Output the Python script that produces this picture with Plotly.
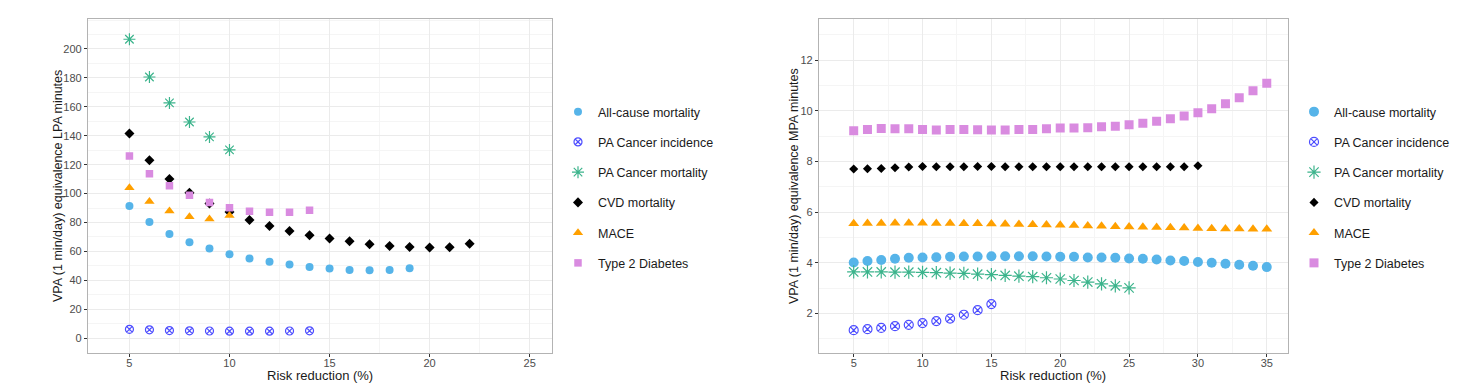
import plotly.graph_objects as go

# ---------------- data ----------------
series_names = ["All-cause mortality", "PA Cancer incidence", "PA Cancer mortality",
                "CVD mortality", "MACE", "Type 2 Diabetes"]

# Left panel: VPA equivalence LPA minutes
lpa_allcause_x = list(range(5, 20))
lpa_allcause_y = [91.5, 80.4, 72.1, 66.4, 62.0, 58.1, 55.1, 52.8, 50.9, 49.3, 48.2, 47.2, 47.0, 47.2, 48.4]
lpa_incid_x = list(range(5, 15))
lpa_incid_y = [6.2, 5.8, 5.3, 5.1, 5.0, 4.9, 4.9, 4.9, 5.0, 5.1]
lpa_cancmort_x = list(range(5, 11))
lpa_cancmort_y = [206.7, 180.6, 162.7, 149.5, 139.2, 130.2]
lpa_cvd_x = list(range(5, 23))
lpa_cvd_y = [141.5, 123.0, 110.1, 100.5, 93.1, 87.3, 81.8, 77.6, 74.2, 71.2, 68.9, 67.1,
             65.0, 63.8, 63.1, 62.7, 62.9, 65.4]
lpa_mace_x = list(range(5, 11))
lpa_mace_y = [104.0, 94.5, 88.0, 84.0, 82.5, 84.8]
lpa_t2d_x = list(range(5, 15))
lpa_t2d_y = [126.0, 113.8, 105.5, 98.8, 93.8, 90.3, 87.8, 87.1, 87.1, 88.5]

# Right panel: VPA equivalence MPA minutes
mpa_allcause_x = list(range(5, 36))
mpa_allcause_y = [4.01, 4.07, 4.11, 4.16, 4.20, 4.21, 4.22, 4.24, 4.25, 4.25, 4.26, 4.26, 4.26,
                  4.26, 4.25, 4.24, 4.24, 4.21, 4.21, 4.20, 4.17, 4.16, 4.13, 4.09, 4.07, 4.03,
                  4.00, 3.96, 3.92, 3.88, 3.83]
mpa_incid_x = list(range(5, 16))
mpa_incid_y = [1.34, 1.38, 1.43, 1.50, 1.55, 1.62, 1.70, 1.80, 1.95, 2.13, 2.37]
mpa_cancmort_x = list(range(5, 26))
mpa_cancmort_y = [3.64, 3.64, 3.64, 3.63, 3.63, 3.62, 3.61, 3.59, 3.58, 3.55, 3.53, 3.50,
                  3.47, 3.45, 3.41, 3.36, 3.30, 3.24, 3.17, 3.09, 3.01]
mpa_cvd_x = list(range(5, 31))
mpa_cvd_y = [7.70, 7.71, 7.72, 7.75, 7.78, 7.80, 7.79, 7.79, 7.79, 7.80, 7.80, 7.79, 7.79,
             7.79, 7.79, 7.79, 7.79, 7.79, 7.79, 7.79, 7.79, 7.79, 7.79, 7.79, 7.79, 7.83]
mpa_mace_x = list(range(5, 36))
mpa_mace_y = [5.55, 5.56, 5.56, 5.57, 5.57, 5.57, 5.56, 5.56, 5.55, 5.55, 5.54, 5.53, 5.52,
              5.51, 5.50, 5.49, 5.48, 5.46, 5.45, 5.43, 5.42, 5.41, 5.40, 5.39, 5.38, 5.36,
              5.35, 5.34, 5.34, 5.33, 5.33]
mpa_t2d_x = list(range(5, 36))
mpa_t2d_y = [9.21, 9.26, 9.30, 9.29, 9.29, 9.26, 9.24, 9.26, 9.26, 9.25, 9.24, 9.24, 9.26,
             9.26, 9.29, 9.32, 9.32, 9.33, 9.37, 9.39, 9.45, 9.51, 9.59, 9.68, 9.79, 9.92,
             10.08, 10.28, 10.51, 10.79, 11.08]

x_ticks_left = [5, 10, 15, 20, 25]
y_ticks_left = [0, 20, 40, 60, 80, 100, 120, 140, 160, 180, 200]
x_ticks_right = [5, 10, 15, 20, 25, 30, 35]
y_ticks_right = [2, 4, 6, 8, 10, 12]

x_title = "Risk reduction (%)"
y_title_left = "VPA (1 min/day) equivalence LPA minutes"
y_title_right = "VPA (1 min/day) equivalence MPA minutes"

colors = ["#56B4E9", "#4d4dff", "#3cb48c", "#000000", "#FFA000", "#D98BE0"]
symbols = ["circle", "circle-x-open", "asterisk-open", "diamond", "triangle-up", "square"]
sizes_left = [8, 8, 10, 7.7, 9, 7.5]
sizes_right = [10, 9, 11, 7, 9.5, 9]

FONT = "Liberation Sans, Arial, sans-serif"

fig = go.Figure()

left_data = [(lpa_allcause_x, lpa_allcause_y), (lpa_incid_x, lpa_incid_y),
             (lpa_cancmort_x, lpa_cancmort_y), (lpa_cvd_x, lpa_cvd_y),
             (lpa_mace_x, lpa_mace_y), (lpa_t2d_x, lpa_t2d_y)]
right_data = [(mpa_allcause_x, mpa_allcause_y), (mpa_incid_x, mpa_incid_y),
              (mpa_cancmort_x, mpa_cancmort_y), (mpa_cvd_x, mpa_cvd_y),
              (mpa_mace_x, mpa_mace_y), (mpa_t2d_x, mpa_t2d_y)]

for i, (name, (xs, ys)) in enumerate(zip(series_names, left_data)):
    open_sym = symbols[i].endswith("open")
    fig.add_trace(go.Scatter(
        x=xs, y=ys, mode="markers", name=name, legend="legend", legendgroup="L" + str(i),
        xaxis="x", yaxis="y",
        marker=dict(symbol=symbols[i], color=colors[i], size=sizes_left[i],
                    line=dict(width=1.2 if open_sym else 0, color=colors[i])),
    ))
for i, (name, (xs, ys)) in enumerate(zip(series_names, right_data)):
    open_sym = symbols[i].endswith("open")
    fig.add_trace(go.Scatter(
        x=xs, y=ys, mode="markers", name=name, legend="legend2", legendgroup="R" + str(i),
        xaxis="x2", yaxis="y2",
        marker=dict(symbol=symbols[i], color=colors[i], size=sizes_right[i],
                    line=dict(width=1.2 if open_sym else 0, color=colors[i])),
    ))

# page body has an 8px margin; work in window pixels and convert
OFF = 8
W, H = 1464, 384
def px_x(p):
    return (p - OFF) / W
def px_y(p):
    return (H - (p - OFF)) / H
def dom_y(top, bottom):
    return [px_y(bottom), px_y(top)]

grid_major = "#EBEBEB"
grid_minor = "#F5F5F5"
border = "#B3B3B3"
tickfont = dict(family=FONT, size=11, color="#4D4D4D")
titlefont = dict(family=FONT, size=13, color="#1a1a1a")

def axis(domain, rng, tickvals, minor_dtick, anchor, standoff=0):
    return dict(
        domain=domain, range=rng, tickmode="array", tickvals=tickvals,
        ticktext=[str(v) for v in tickvals],
        showgrid=True, gridcolor=grid_major, gridwidth=1,
        minor=dict(showgrid=True, gridcolor=grid_minor, gridwidth=1,
                   dtick=minor_dtick, tick0=0, ticks=""),
        zeroline=False, showline=True, linecolor=border, linewidth=1.3, mirror=True,
        ticks="outside", ticklen=3, tickcolor="#333333", tickwidth=1,
        tickfont=tickfont, anchor=anchor, automargin=False,
        ticklabelstandoff=standoff,
    )

ydom = dom_y(19, 353)
fig.update_layout(
    width=W, height=H, margin=dict(l=0, r=0, t=0, b=0),
    paper_bgcolor="white", plot_bgcolor="white",
    font=dict(family=FONT),
    xaxis=axis([px_x(88), px_x(551.7)], [2.93, 26.1], x_ticks_left, 2.5, "y", -3),
    yaxis=axis(ydom, [-10.2, 220.7], y_ticks_left, 10, "x"),
    xaxis2=axis([px_x(819), px_x(1287.7)], [2.48, 36.52], x_ticks_right, 2.5, "y2", -3),
    yaxis2=axis(ydom, [0.44, 13.62], y_ticks_right, 1, "x2"),
    legend=dict(x=px_x(558), y=px_y(97), xanchor="left", yanchor="top",
                traceorder="grouped", tracegroupgap=11,
                font=dict(family=FONT, size=12.5, color="#1a1a1a"),
                bgcolor="rgba(0,0,0,0)"),
    legend2=dict(x=px_x(1294), y=px_y(97), xanchor="left", yanchor="top",
                 traceorder="grouped", tracegroupgap=11,
                 font=dict(family=FONT, size=12.5, color="#1a1a1a"),
                 bgcolor="rgba(0,0,0,0)"),
    showlegend=True,
    annotations=[
        dict(text=x_title, x=px_x(320), y=px_y(375), xref="paper", yref="paper",
             xanchor="center", yanchor="middle", showarrow=False, font=titlefont),
        dict(text=x_title, x=px_x(1053), y=px_y(375), xref="paper", yref="paper",
             xanchor="center", yanchor="middle", showarrow=False, font=titlefont),
        dict(text=y_title_left, x=px_x(58), y=px_y(186), xref="paper", yref="paper",
             xanchor="center", yanchor="middle", showarrow=False, textangle=-90,
             font=dict(family=FONT, size=12.5, color="#1a1a1a")),
        dict(text=y_title_right, x=px_x(794), y=px_y(186), xref="paper", yref="paper",
             xanchor="center", yanchor="middle", showarrow=False, textangle=-90,
             font=dict(family=FONT, size=12.5, color="#1a1a1a")),
    ],
)

fig.write_html("out.html")
